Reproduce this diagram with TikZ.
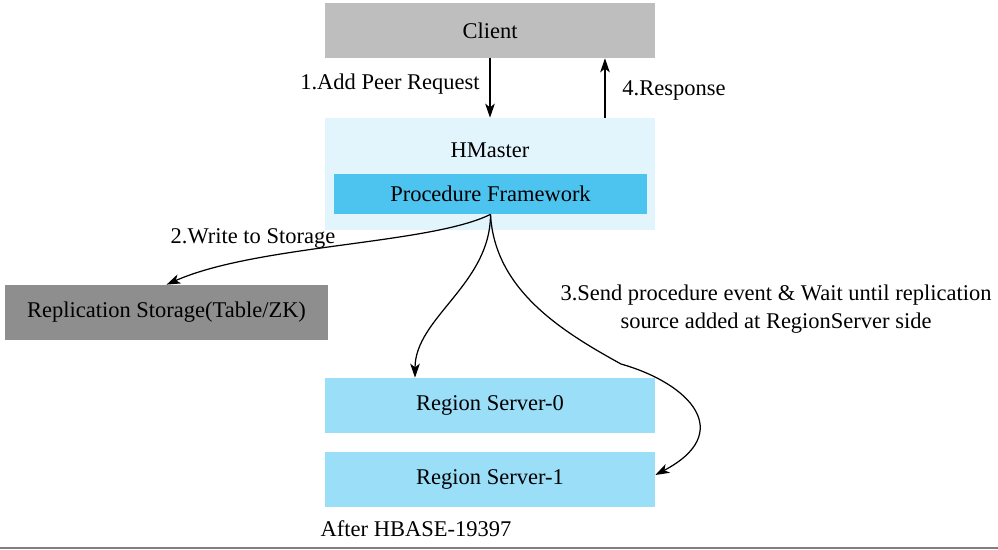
\documentclass[tikz,border=0pt]{standalone}
\usepackage{fontspec}
\setmainfont{Liberation Serif}
\usetikzlibrary{positioning, arrows.meta}
\definecolor{ClientGray}{RGB}{190, 190, 190}
\definecolor{StoreGray}{RGB}{142, 142, 142}
\definecolor{MasterBlue}{RGB}{227, 245, 252}
\definecolor{ProcBlue}{RGB}{77, 196, 240}
\definecolor{RSBlue}{RGB}{154, 222, 248}

\begin{document}
\begin{tikzpicture}[x=0.02cm, y=-0.02cm, font=\fontsize{12.8}{16}\selectfont,
	box/.style={minimum width=6.6cm, minimum height=1.1cm, inner sep=0pt},
	link/.style={line width=0.7pt, -{Stealth[length=8pt, width=5.5pt, inset=2.2pt]}}]
	\useasboundingbox (0,0) rectangle (998,550);
	\node[box, fill=ClientGray] (client) at (490,30.5) {Client};
	\node[box, fill=MasterBlue, minimum height=2.24cm] (hmaster) at (490,174) {};
	\node (hmtitle) at (490,150) {HMaster};
	\node[box, fill=ProcBlue, minimum width=6.26cm, minimum height=0.8cm] (proc) at (490.5,194) {Procedure Framework};
	\node[box, fill=StoreGray, minimum width=6.46cm] (store) at (166.5,312.5) {Replication Storage(Table/ZK)};
	\node[box, fill=RSBlue] (rs0) at (490,405.5) {Region Server-0};
	\node[box, fill=RSBlue] (rs1) at (490,479.5) {Region Server-1};
	\node (after) at (416,529) {After HBASE-19397};
	\node (addpeer) at (390,84) {1.Add Peer Request};
	\node (response) at (674,90) {4.Response};
	\node (write) at (253,238) {2.Write to Storage};
	\node[align=center] (send) at (776,309) {3.Send procedure event \& Wait until replication\\source added at RegionServer side};
	\coordinate (bend) at (621,364);
	\draw[link] (client.south) -- (hmaster.north);
	\draw[link] ([xshift=2.3cm]hmaster.north) -- ([xshift=2.3cm]client.south);
	\draw[link] (proc.south) .. controls +(-60,30) and +(90,-40) .. (store.north);
	\draw[link] (proc.south) .. controls +(0,70) and +(0,-60) .. ([xshift=-1.5cm]rs0.north);
	\draw[link] (proc.south) .. controls +(4,75) and +(-60,-33) .. (bend) .. controls +(70,20) and +(80,-42) .. ([yshift=0.09cm]rs1.east);
	\draw[line width=1.2pt, gray] (0,548) -- (998,548);
\end{tikzpicture}
\end{document}
